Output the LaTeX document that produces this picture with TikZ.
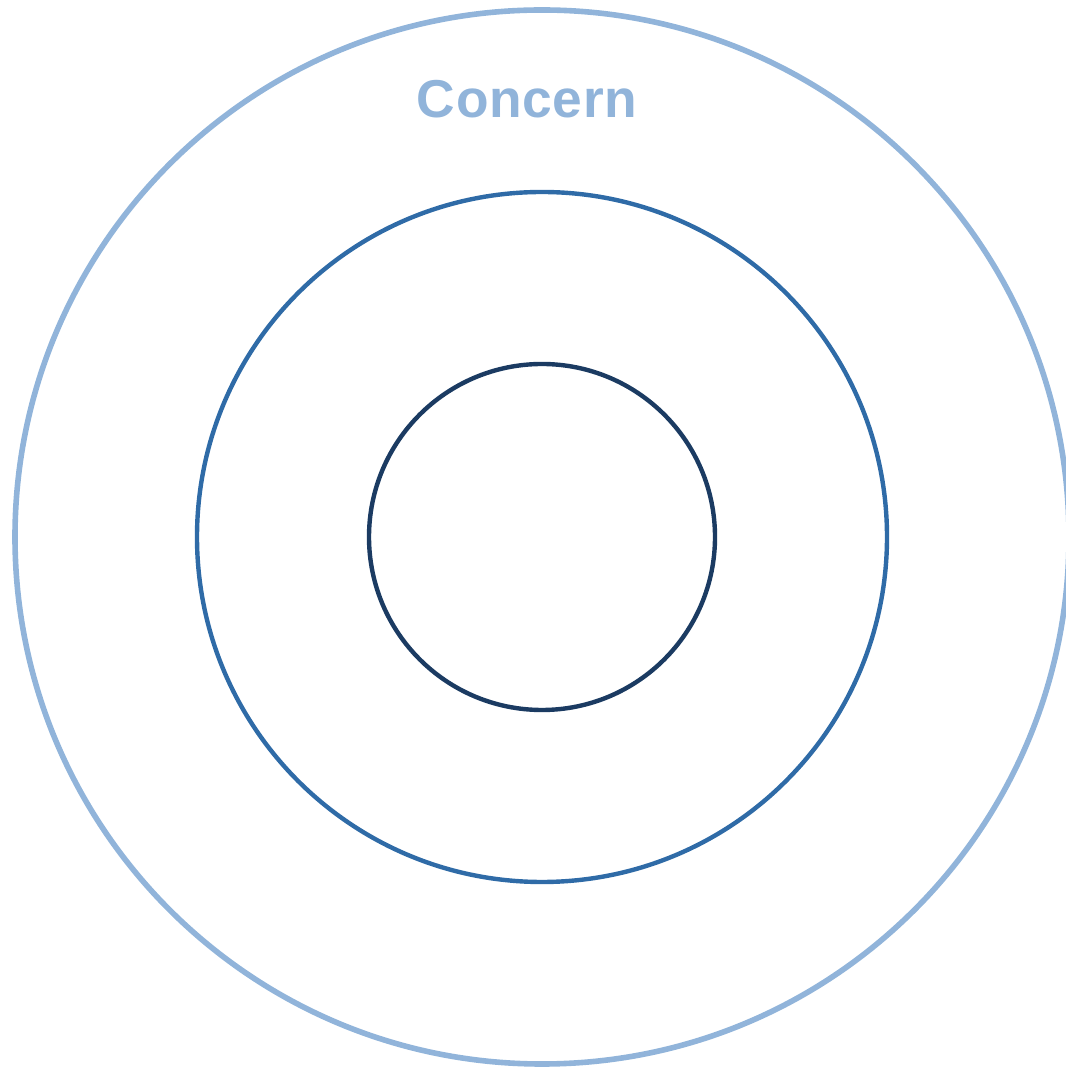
\documentclass[tikz,border=0pt]{standalone}
\usepackage{fontspec}
\setmainfont{Liberation Sans}
\usepackage{tikz}
\definecolor{outerblue}{HTML}{91B4DA}
\definecolor{midblue}{HTML}{2F6BA7}
\definecolor{innerblue}{HTML}{1B3B62}

\begin{document}
\begin{tikzpicture}[x=0.75pt,y=0.75pt]
    \useasboundingbox (0,0) rectangle (1066,1067);
    \coordinate (ctr) at (542,530);
    \draw[outerblue,line width=4.2pt] (ctr) circle[radius=527];
    \draw[midblue,line width=3.3pt] (ctr) circle[radius=345];
    \draw[innerblue,line width=3.3pt] (ctr) circle[radius=173];
    \node[anchor=base,inner sep=0pt,text=outerblue,
          font=\bfseries\fontsize{40}{46}\selectfont\addfontfeature{LetterSpace=1.2}]
        (concern) at (527,949) {Concern};
\end{tikzpicture}
\end{document}
